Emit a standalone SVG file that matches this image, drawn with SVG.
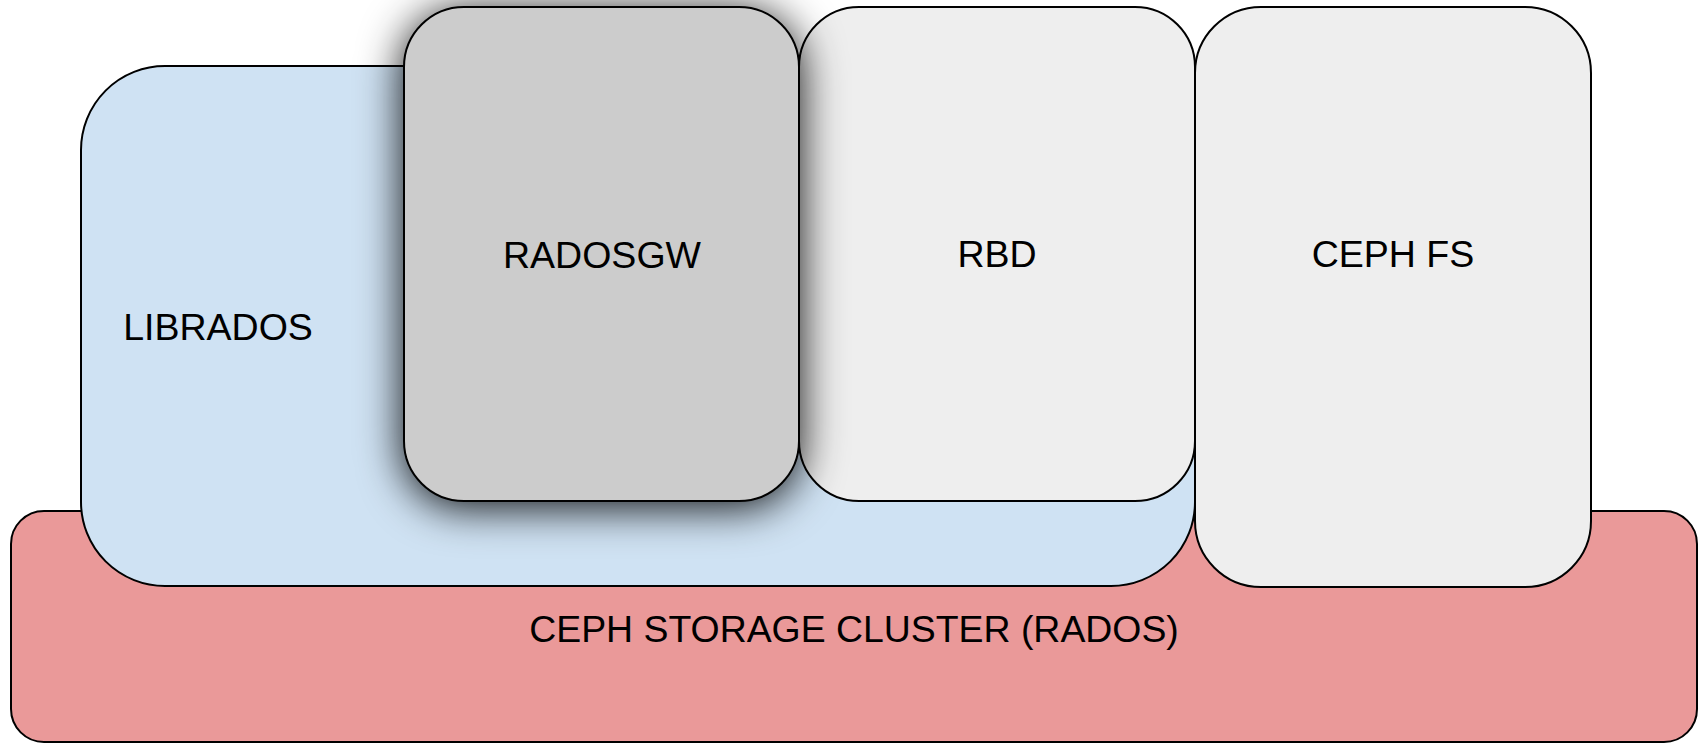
<svg xmlns="http://www.w3.org/2000/svg" width="1703" height="743" viewBox="0 0 1703 743">
<style>
.box{stroke:#000;stroke-width:2}
.lbl{font-family:"Liberation Sans",Arial,sans-serif;font-size:37.5px;fill:#000;text-anchor:middle}
</style>
<defs>
<filter id="shadow" x="-40%" y="-40%" width="180%" height="180%">
<feDropShadow dx="0" dy="5" stdDeviation="22" flood-color="#000" flood-opacity="0.95"/>
</filter>
</defs>
<g id="rados">
<rect class="box" x="11" y="511" width="1686" height="231" rx="33" ry="33" fill="#ea9999"/>
<text class="lbl" x="854" y="642" style="font-size:37.4px">CEPH STORAGE CLUSTER (RADOS)</text>
</g>
<g id="librados">
<rect class="box" x="81" y="66" width="1114" height="520" rx="84" ry="84" fill="#cfe2f3"/>
<text class="lbl" x="218" y="340">LIBRADOS</text>
</g>
<g id="rbd">
<rect class="box" x="799" y="7" width="396" height="494" rx="60" ry="60" fill="#eeeeee"/>
<text class="lbl" x="997" y="267">RBD</text>
</g>
<g id="radosgw">
<rect class="box" x="404" y="7" width="395" height="494" rx="60" ry="60" fill="#cccccc" filter="url(#shadow)"/>
<text class="lbl" x="602" y="268">RADOSGW</text>
</g>
<g id="cephfs">
<rect class="box" x="1195" y="7" width="396" height="580" rx="66" ry="66" fill="#eeeeee"/>
<text class="lbl" x="1393" y="267">CEPH FS</text>
</g>
<g id="connectors"/>
</svg>
